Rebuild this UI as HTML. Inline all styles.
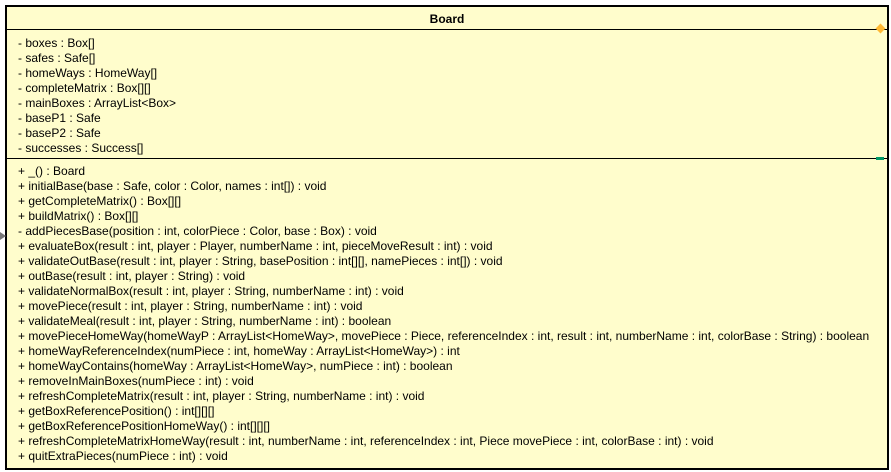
<!DOCTYPE html>
<html><head><style>
body{margin:0;width:891px;height:472px;background:#fff;position:relative;overflow:hidden;font-family:"Liberation Sans",Arial,sans-serif;}
.box{position:absolute;left:5px;top:5px;width:880px;height:461px;border:2px solid #000;background:#fffdcc;}
.t{position:absolute;left:0;top:5px;width:880px;text-align:center;font-weight:bold;font-size:12px;}
.l{position:absolute;left:0;width:880px;height:1px;background:#000;}
.s{position:absolute;left:11px;font-size:12px;line-height:15px;white-space:pre;color:#000;}
</style></head><body>
<div class="box">
<div class="t">Board</div>
<div class="l" style="top:22px"></div>
<div style="position:absolute;left:870px;top:18px;width:7px;height:7px;background:#ffb833;transform:rotate(45deg)"></div>
<div class="s" style="top:29px">- boxes : Box[]
- safes : Safe[]
- homeWays : HomeWay[]
- completeMatrix : Box[][]
- mainBoxes : ArrayList&lt;Box&gt;
- baseP1 : Safe
- baseP2 : Safe
- successes : Success[]</div>
<div class="l" style="top:151px"></div>
<div style="position:absolute;left:869px;top:150px;width:8px;height:3px;background:#009966"></div>
<div class="s" style="top:157px">+ _() : Board
+ initialBase(base : Safe, color : Color, names : int[]) : void
+ getCompleteMatrix() : Box[][]
+ buildMatrix() : Box[][]
- addPiecesBase(position : int, colorPiece : Color, base : Box) : void
+ evaluateBox(result : int, player : Player, numberName : int, pieceMoveResult : int) : void
+ validateOutBase(result : int, player : String, basePosition : int[][], namePieces : int[]) : void
+ outBase(result : int, player : String) : void
+ validateNormalBox(result : int, player : String, numberName : int) : void
+ movePiece(result : int, player : String, numberName : int) : void
+ validateMeal(result : int, player : String, numberName : int) : boolean
+ movePieceHomeWay(homeWayP : ArrayList&lt;HomeWay&gt;, movePiece : Piece, referenceIndex : int, result : int, numberName : int, colorBase : String) : boolean
+ homeWayReferenceIndex(numPiece : int, homeWay : ArrayList&lt;HomeWay&gt;) : int
+ homeWayContains(homeWay : ArrayList&lt;HomeWay&gt;, numPiece : int) : boolean
+ removeInMainBoxes(numPiece : int) : void
+ refreshCompleteMatrix(result : int, player : String, numberName : int) : void
+ getBoxReferencePosition() : int[][][]
+ getBoxReferencePositionHomeWay() : int[][][]
+ refreshCompleteMatrixHomeWay(result : int, numberName : int, referenceIndex : int, Piece movePiece : int, colorBase : int) : void
+ quitExtraPieces(numPiece : int) : void</div>
</div>
<div style="position:absolute;left:0;top:232px;width:0;height:0;border-left:6px solid #777;border-top:4px solid transparent;border-bottom:4px solid transparent"></div>
</body></html>
